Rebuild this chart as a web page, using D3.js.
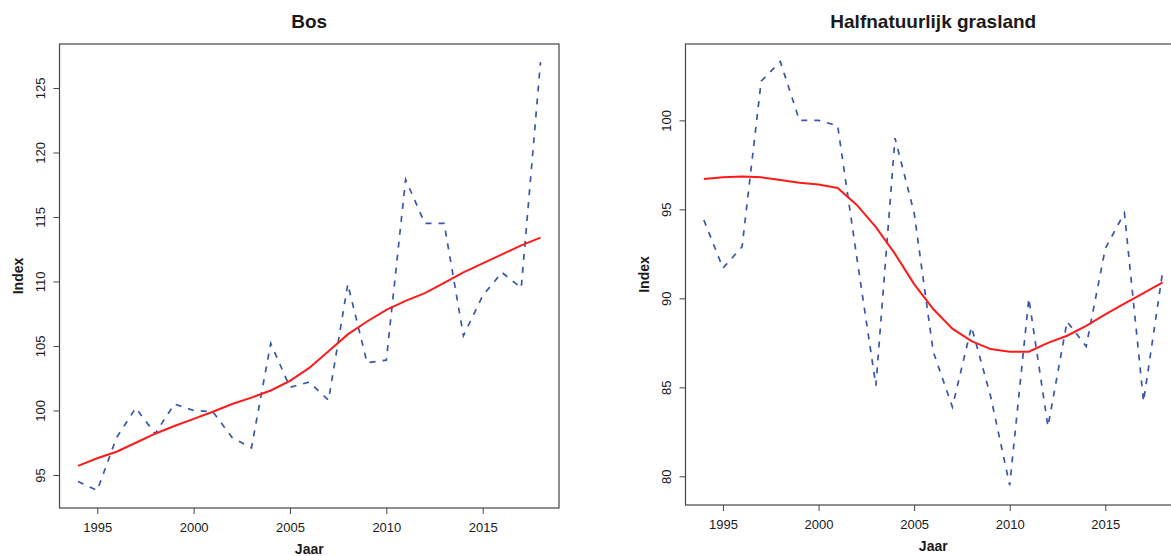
<!DOCTYPE html>
<html>
<head>
<meta charset="utf-8">
<script src="https://cdn.jsdelivr.net/npm/d3@7/dist/d3.min.js"></script>
<style>
  body { margin: 0; background: #fff; }
  svg text { font-family: "Liberation Sans", Arial, sans-serif; fill: #1a1a1a; }
</style>
</head>
<body>
<svg id="chart" width="1171" height="556"></svg>
<script>
// Years on the horizontal axis
const years = [1994, 1995, 1996, 1997, 1998, 1999, 2000, 2001, 2002, 2003, 2004, 2005,
               2006, 2007, 2008, 2009, 2010, 2011, 2012, 2013, 2014, 2015, 2016, 2017, 2018];

// Bos: yearly index and smoothed trend
const bosIndex = [94.5, 93.8, 97.9, 100.2, 98.2, 100.5, 100.0, 99.9, 97.9, 97.1, 105.2, 101.8,
                  102.2, 100.8, 109.8, 103.7, 103.9, 117.9, 114.5, 114.5, 105.8, 108.9, 110.7, 109.5, 127.0];
const bosTrend = [95.7, 96.3, 96.8, 97.5, 98.2, 98.8, 99.35, 99.9, 100.5, 101.0, 101.55, 102.3,
                  103.3, 104.6, 105.9, 106.9, 107.8, 108.5, 109.1, 109.9, 110.7, 111.4, 112.1, 112.8, 113.4];

// Halfnatuurlijk grasland: yearly index and smoothed trend
const grasIndex = [94.4, 91.7, 92.9, 102.2, 103.3, 100.0, 100.0, 99.7, 92.3, 85.1, 99.0, 94.8,
                   87.0, 83.9, 88.4, 84.5, 79.5, 90.0, 82.8, 88.7, 87.3, 92.8, 94.8, 84.2, 91.5];
const grasTrend = [96.7, 96.8, 96.85, 96.8, 96.65, 96.5, 96.4, 96.2, 95.25, 94.0, 92.5, 90.8,
                   89.4, 88.3, 87.6, 87.15, 87.0, 87.0, 87.5, 87.9, 88.45, 89.1, 89.7, 90.3, 90.9];

// Axis ticks
const yearTicks = [1995, 2000, 2005, 2010, 2015];
const bosTicks = [95, 100, 105, 110, 115, 120, 125];
const grasTicks = [80, 85, 90, 95, 100];

// Axis limits
const xLimits = [1993.04, 2018.96];
const bosLimits = [92.44, 128.41];
const grasLimits = [78.39, 104.29];

const svg = d3.select("#chart");

const panels = [
  { title: "Bos", index: bosIndex, trend: bosTrend, yTicks: bosTicks, yLim: bosLimits,
    left: 59.5, right: 559, top: 44, bottom: 508 },
  { title: "Halfnatuurlijk grasland", index: grasIndex, trend: grasTrend, yTicks: grasTicks, yLim: grasLimits,
    left: 685.5, right: 1181, top: 44, bottom: 505 }
];

panels.forEach(p => {
  const x = d3.scaleLinear().domain(xLimits).range([p.left, p.right]);
  const y = d3.scaleLinear().domain(p.yLim).range([p.bottom, p.top]);
  const g = svg.append("g");

  // index series (dashed)
  const line = d3.line().x((d, i) => x(years[i])).y(d => y(d));
  g.append("path")
    .datum(p.index)
    .attr("d", line)
    .attr("fill", "none")
    .attr("stroke", "#3a56a8")
    .attr("stroke-width", 1.7)
    .attr("stroke-dasharray", "6,7");

  // trend
  g.append("path")
    .datum(p.trend)
    .attr("d", line)
    .attr("fill", "none")
    .attr("stroke", "#ff1a1a")
    .attr("stroke-width", 2);

  // frame
  g.append("rect")
    .attr("x", p.left).attr("y", p.top)
    .attr("width", p.right - p.left).attr("height", p.bottom - p.top)
    .attr("fill", "none").attr("stroke", "#444").attr("stroke-width", 1.2);

  // x axis
  const xa = g.append("g")
    .attr("transform", `translate(0,${p.bottom})`)
    .call(d3.axisBottom(x).tickValues(yearTicks).tickFormat(d3.format("d")).tickSize(6).tickSizeOuter(0));
  xa.select(".domain").remove();
  xa.selectAll(".tick line").attr("stroke", "#444");
  xa.selectAll(".tick text")
    .attr("y", 23.5).attr("dy", 0)
    .style("font-size", "13px").attr("fill", "#1a1a1a");

  // y axis
  const ya = g.append("g")
    .attr("transform", `translate(${p.left},0)`)
    .call(d3.axisLeft(y).tickValues(p.yTicks).tickFormat(d3.format("d")).tickSize(6).tickSizeOuter(0));
  ya.select(".domain").remove();
  ya.selectAll(".tick line").attr("stroke", "#444");
  ya.selectAll(".tick text")
    .attr("transform", "rotate(-90)")
    .attr("x", 0).attr("y", -14.5).attr("dy", 0)
    .attr("text-anchor", "middle")
    .style("font-size", "13px").attr("fill", "#1a1a1a");

  // titles
  const cx = (p.left + p.right) / 2;
  g.append("text")
    .attr("x", cx).attr("y", 28)
    .attr("text-anchor", "middle")
    .style("font-size", "19px").style("font-weight", "bold")
    .text(p.title);

  g.append("text")
    .attr("x", cx).attr("y", p.bottom + 46)
    .attr("text-anchor", "middle")
    .style("font-size", "14px").style("font-weight", "bold")
    .text("Jaar");

  const cy = (p.top + p.bottom) / 2;
  g.append("text")
    .attr("transform", `translate(${p.left - 37},${cy}) rotate(-90)`)
    .attr("text-anchor", "middle")
    .style("font-size", "14px").style("font-weight", "bold")
    .text("Index");
});
</script>
</body>
</html>
